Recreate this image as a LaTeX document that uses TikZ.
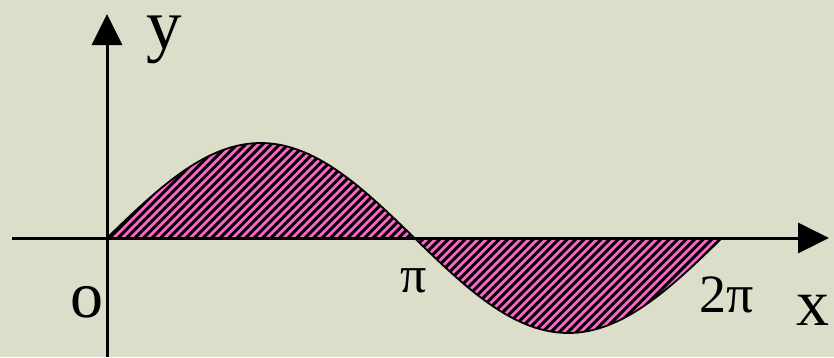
\documentclass[tikz,border=0pt]{standalone}
\usepackage{fontspec}
\setmainfont{Liberation Serif}
\usetikzlibrary{arrows.meta}
\definecolor{bgc}{RGB}{220,222,202}
\definecolor{pinkc}{RGB}{255,102,204}
\tikzset{
  axis/.style={line width=3pt,-{Triangle[length=31pt,width=30pt]}},
  lab/.style={anchor=base,inner sep=0pt},
}
\begin{document}
\begin{tikzpicture}[x=1pt,y=-1pt]
\fill[bgc] (0,0) rectangle (834,357);
\useasboundingbox (0,0) rectangle (834,357);
% filled region
\begin{scope}
  \clip plot[domain=0:360,samples=120] ({107+\x/360*615},{238-95*sin(\x)}) -- cycle;
  \fill[pinkc] (100,130) rectangle (730,340);
  \foreach \k in {-30,...,110} {
    \draw[line width=3pt,black] ({100+8.5*\k-220},340) -- ++(220,-220);
  }
\end{scope}
\draw[line width=1.8pt] plot[domain=0:360,samples=120] ({107+\x/360*615},{238-95*sin(\x)});
% axes
\coordinate (xs) at (12,238);
\coordinate (xe) at (829,238);
\coordinate (ys) at (107,357);
\coordinate (ye) at (107,14);
\draw[axis] (xs) -- (xe);
\draw[axis] (ys) -- (ye);
% labels
\node[lab,font=\fontsize{71}{71}\selectfont] (ylab) at (164,48) {y};
\node[lab,font=\fontsize{66}{66}\selectfont] (olab) at (87,317) {o};
\node[lab,font=\fontsize{66}{66}\selectfont] (xlab) at (813,325) {x};
\node[lab,font=\fontsize{52}{52}\selectfont] (pi) at (414,292) {π};
\node[lab,font=\fontsize{54}{54}\selectfont] (tpi) at (727,312) {2π};
\end{tikzpicture}
\end{document}
